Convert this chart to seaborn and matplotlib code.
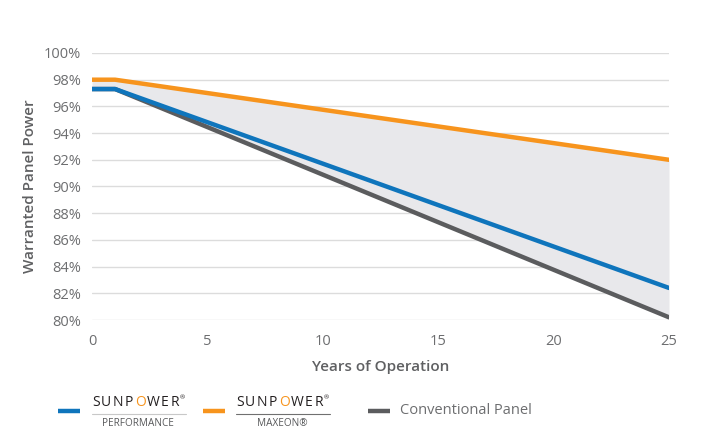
import matplotlib
matplotlib.use("Agg")
import matplotlib.pyplot as plt
import seaborn as sns
import pandas as pd
from matplotlib.lines import Line2D

years = [0, 1, 25]
maxeon = [98.0, 98.0, 92.0]
performance = [97.3, 97.3, 82.4]
conventional = [97.3, 97.3, 80.2]
y_ticks = [80, 82, 84, 86, 88, 90, 92, 94, 96, 98, 100]
x_ticks = [0, 5, 10, 15, 20, 25]

c_orange = "#f7941d"
c_blue = "#0f75bc"
c_gray = "#5b5c5e"
c_text = "#6d6e70"

sns.set_theme(style="white")
plt.rcParams['font.family'] = ['Open Sans', 'DejaVu Sans']

df = pd.DataFrame({
    "year": years * 3,
    "power": maxeon + performance + conventional,
    "series": ["maxeon"] * 3 + ["performance"] * 3 + ["conventional"] * 3,
})

fig = plt.figure(figsize=(7.08, 4.47), dpi=100)
ax = fig.add_axes([92/708, 1-320/447, (669-92)/708, (320-53)/447])

ax.fill_between(years, conventional, maxeon, color="#e8e8eb", lw=0, zorder=1)
sns.lineplot(data=df, x="year", y="power", hue="series",
             hue_order=["conventional", "performance", "maxeon"],
             palette={"maxeon": c_orange, "performance": c_blue, "conventional": c_gray},
             lw=3.2, legend=False, ax=ax, zorder=3)

ax.set_xlim(0, 25)
ax.set_ylim(80, 100)
ax.set_yticks(y_ticks)
ax.set_yticklabels([f"{v}%" for v in y_ticks])
ax.set_xticks(x_ticks)
for v in y_ticks:
    ax.axhline(v, color="#dcdcdc", lw=1, zorder=0)
for s in ax.spines.values():
    s.set_visible(False)
ax.tick_params(axis="both", length=0, labelsize=10.5, labelcolor=c_text)
ax.tick_params(axis="y", pad=8)
ax.tick_params(axis="x", pad=10)
ax.set_xlabel("Years of Operation", fontsize=11, fontweight="semibold", color="#5f6062", labelpad=8)
ax.set_ylabel("Warranted Panel Power", fontsize=11, fontweight="semibold", color="#5f6062", labelpad=5)

# Legend (custom)
renderer = fig.canvas.get_renderer()

def px(x, y):
    return x/708, 1-y/447

def handle(x0, x1, y, color):
    fig.add_artist(Line2D([x0/708, x1/708], [1-y/447, 1-y/447], color=color, lw=3.2,
                          solid_capstyle="butt", transform=fig.transFigure))

def sunpower(x0, y, sub, linecolor):
    letters = "SUNPOWER"
    gap = 1.5
    x = x0
    for ch in letters:
        col = c_orange if ch == "O" else "#231f20"
        t = fig.text(*px(x, y), ch, fontsize=10, color=col,
                     ha="left", va="center", fontweight="medium")
        w = t.get_window_extent(renderer=renderer).width
        x += w + gap
    fig.text(*px(x - gap + 1, y - 4), "®", fontsize=4.5, color="#231f20",
             ha="left", va="center")
    fig.add_artist(Line2D([x0/708, (x0+94)/708], [1-(y+12)/447]*2, color=linecolor, lw=0.8,
                          transform=fig.transFigure))
    fig.text(*px(x0 + 46, y + 22), sub, fontsize=7.2, color="#58595b",
             ha="center", va="center")

handle(58, 80, 411, c_blue)
sunpower(92, 402, "PERFORMANCE", "#c8c8c8")
handle(203, 225, 411, c_orange)
sunpower(236, 402, "MAXEON\u00ae", "#707070")
handle(368, 390, 411, c_gray)
fig.text(*px(400, 411), "Conventional Panel", fontsize=10.5, color=c_text, ha="left", va="center")

fig.savefig("out.png", dpi=100, facecolor="white")
